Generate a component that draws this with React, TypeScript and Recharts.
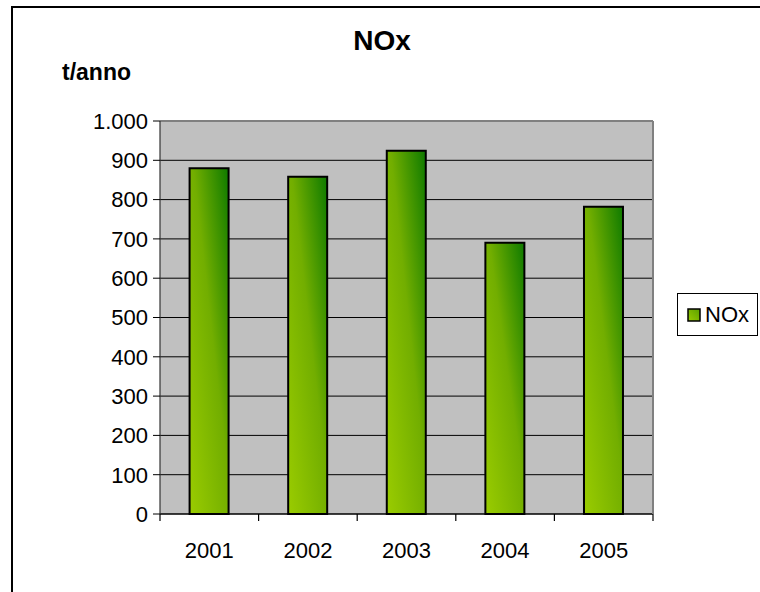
import React from 'react';
import { BarChart, Bar, XAxis, YAxis, CartesianGrid, ReferenceLine } from 'recharts';

// Annual NOx emissions (t/anno)
const years = ['2001', '2002', '2003', '2004', '2005'];
const noxValues = [880, 858, 924, 690, 782];
const yTicks = [0, 100, 200, 300, 400, 500, 600, 700, 800, 900, 1000];
const seriesName = 'NOx';
const chartTitle = 'NOx';
const unitLabel = 't/anno';

const data = years.map((year, i) => ({ year, NOx: noxValues[i] }));

const FONT = 'Arial, "Liberation Sans", sans-serif';
const TICK_SIZE = 22;

// Italian thousands separator: 1000 -> "1.000"
const formatIt = (v: number) => String(v).replace(/\B(?=(\d{3})+(?!\d))/g, '.');

// Category tick: label centred under the bar, tick marks on the category boundaries
function YearTick(props: any) {
  const { x, y, payload, index, visibleTicksCount, width } = props;
  const half =
    payload && typeof payload.offset === 'number' && payload.offset > 0
      ? payload.offset
      : width / visibleTicksCount / 2;
  const isLast = index === visibleTicksCount - 1;
  return (
    <g>
      <line x1={x - half} x2={x - half} y1={y} y2={y + 7} stroke="#000" strokeWidth={1.2} />
      {isLast && <line x1={x + half} x2={x + half} y1={y} y2={y + 7} stroke="#000" strokeWidth={1.2} />}
      <text x={x} y={y + 44} textAnchor="middle" fontFamily={FONT} fontSize={TICK_SIZE} fill="#000">
        {payload.value}
      </text>
    </g>
  );
}

export default function App() {
  return (
    <div style={{ position: 'absolute', left: 0, top: 0, width: 760, height: 592, background: '#fff', fontFamily: FONT }}>
      {/* chart frame */}
      <div
        style={{
          position: 'absolute',
          left: 11,
          top: 6,
          width: 760,
          height: 600,
          borderLeft: '2px solid #000',
          borderTop: '2px solid #000',
          boxSizing: 'border-box',
        }}
      />
      <div
        style={{
          position: 'absolute',
          left: 0,
          width: 760,
          top: 25,
          textAlign: 'center',
          fontSize: 28,
          fontWeight: 'bold',
          lineHeight: '32px',
          paddingLeft: 2,
        }}
      >
        {chartTitle}
      </div>
      <div
        style={{
          position: 'absolute',
          left: 62,
          top: 58,
          fontSize: 23,
          fontWeight: 'bold',
          lineHeight: '28px',
        }}
      >
        {unitLabel}
      </div>
      <div style={{ position: 'absolute', left: 0, top: 0 }}>
        <BarChart
          width={760}
          height={592}
          data={data}
          margin={{ top: 121, right: 106, bottom: 18, left: 80 }}
          barCategoryGap="30%"
        >
          <defs>
            <linearGradient id="noxFill" x1="0" y1="1" x2="1" y2="0">
              <stop offset="0%" stopColor="#9acc00" />
              <stop offset="55%" stopColor="#72ae00" />
              <stop offset="100%" stopColor="#0e7a00" />
            </linearGradient>
          </defs>
          <CartesianGrid vertical={false} fill="#c0c0c0" stroke="#000" strokeWidth={1} />
          <XAxis
            dataKey="year"
            height={60}
            axisLine={{ stroke: '#000', strokeWidth: 1.2 }}
            tickLine={false}
            tickSize={0}
            tickMargin={0}
            interval={0}
            tick={<YearTick />}
          />
          <YAxis
            width={80}
            domain={[0, 1000]}
            ticks={yTicks}
            interval={0}
            tickFormatter={formatIt}
            axisLine={{ stroke: '#333', strokeWidth: 1.2 }}
            tickLine={{ stroke: '#000' }}
            tickSize={7}
            tickMargin={5}
            tick={{ fontFamily: FONT, fontSize: TICK_SIZE, fill: '#000' }}
          />
          <YAxis
            yAxisId="edge"
            orientation="right"
            width={1}
            domain={[0, 1000]}
            tick={false}
            tickLine={false}
            axisLine={{ stroke: '#808080', strokeWidth: 2 }}
          />
          <ReferenceLine y={1000} stroke="#808080" strokeWidth={2} />
          <Bar
            dataKey="NOx"
            name={seriesName}
            fill="url(#noxFill)"
            stroke="#000"
            strokeWidth={2}
            isAnimationActive={false}
          />
        </BarChart>
      </div>
      {/* legend */}
      <div
        style={{
          position: 'absolute',
          left: 677,
          top: 293,
          width: 81,
          height: 43,
          border: '1px solid #000',
          boxSizing: 'border-box',
          display: 'flex',
          alignItems: 'center',
          paddingLeft: 9,
          fontSize: TICK_SIZE,
        }}
      >
        <svg width={14} height={14} style={{ marginRight: 4 }}>
          <defs>
            <linearGradient id="noxLegendFill" x1="0" y1="1" x2="1" y2="0">
              <stop offset="0%" stopColor="#9acc00" />
              <stop offset="100%" stopColor="#5aa000" />
            </linearGradient>
          </defs>
          <rect x={1} y={1} width={12} height={12} fill="url(#noxLegendFill)" stroke="#000" strokeWidth={1.5} />
        </svg>
        <span>{seriesName}</span>
      </div>
    </div>
  );
}
